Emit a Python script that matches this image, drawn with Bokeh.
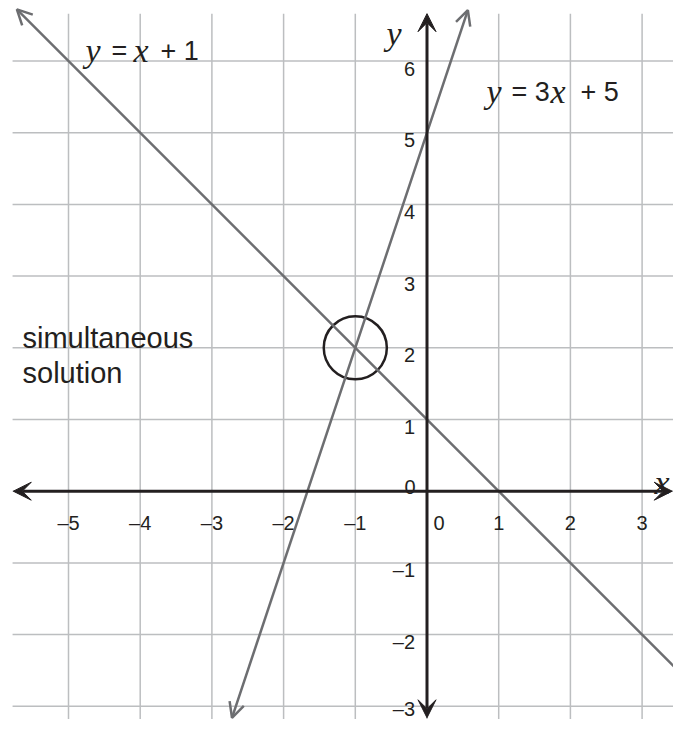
from bokeh.plotting import figure
from bokeh.models import Range1d, Arrow, VeeHead, OpenHead
from bokeh.core.properties import value
from bokeh.embed import file_html
from bokeh.resources import INLINE

# ---------------- data ----------------
grid_x = [-5, -4, -3, -2, -1, 0, 1, 2, 3]
grid_y = [-3, -2, -1, 0, 1, 2, 3, 4, 5, 6]
x_tick_values = [-5, -4, -3, -2, -1, 1, 2, 3]
x_tick_labels = ["\u20135", "\u20134", "\u20133", "\u20132", "\u20131", "1", "2", "3"]
y_tick_values = [-3, -2, -1, 1, 2, 3, 4, 5, 6]
y_tick_labels = ["\u20133", "\u20132", "\u20131", "1", "2", "3", "4", "5", "6"]
origin_label = "0"

# line y = -x + 1  (labelled "y = x + 1" in the source)
line1_x = [-5.72, 3.72]
line1_y = [6.72, -2.72]
# line y = 3x + 5
line2_x = [-2.72, 0.57]
line2_y = [-3.16, 6.71]
# simultaneous solution
solution_x = [-1]
solution_y = [2]
solution_r = 0.44

# axis extents
x_axis_ends = [-5.77, 3.42]
y_axis_ends = [-3.16, 6.66]
grid_left = -5.78
grid_top = 6.66

# ---------------- geometry helpers ----------------
UNIT = 71.7
X0PX = 426.5
Y0PX = 490.7
W, H = 673, 719


def px2x(px):
    return (px - X0PX) / UNIT


def px2y(py):
    return (Y0PX - py) / UNIT


DARK = "#231f20"
GRAY = "#6d6e71"
GRID = "#bcbec0"

p = figure(width=W, height=H,
           x_range=Range1d(px2x(0), px2x(W)),
           y_range=Range1d(px2y(H), px2y(0)),
           x_axis_location=None, y_axis_location=None,
           output_backend="svg", toolbar_location=None, min_border=0)
p.grid.visible = False
p.outline_line_color = None
p.background_fill_color = "white"
p.border_fill_color = "white"

x_hi = px2x(W)
y_lo = px2y(H)

# grid
p.segment(x0=grid_x, y0=[y_lo] * len(grid_x), x1=grid_x, y1=[grid_top] * len(grid_x),
          line_color=GRID, line_width=1.5)
p.segment(x0=[grid_left] * len(grid_y), y0=grid_y, x1=[x_hi] * len(grid_y), y1=grid_y,
          line_color=GRID, line_width=1.5)

# lines with open arrow heads
for lx, ly in ((line1_x, line1_y), (line2_x, line2_y)):
    p.add_layout(Arrow(x_start=lx[0], y_start=ly[0], x_end=lx[1], y_end=ly[1],
                       line_color=GRAY, line_width=2.5,
                       start=OpenHead(size=15, line_color=GRAY, line_width=2.5),
                       end=OpenHead(size=15, line_color=GRAY, line_width=2.5)))

# axes with filled vee heads
p.add_layout(Arrow(x_start=x_axis_ends[0], y_start=0, x_end=x_axis_ends[1], y_end=0,
                   line_color=DARK, line_width=3,
                   start=VeeHead(size=18, fill_color=DARK, line_color=DARK, line_width=1),
                   end=VeeHead(size=18, fill_color=DARK, line_color=DARK, line_width=1)))
p.add_layout(Arrow(x_start=0, y_start=y_axis_ends[0], x_end=0, y_end=y_axis_ends[1],
                   line_color=DARK, line_width=3,
                   start=VeeHead(size=18, fill_color=DARK, line_color=DARK, line_width=1),
                   end=VeeHead(size=18, fill_color=DARK, line_color=DARK, line_width=1)))

# solution circle
p.circle(x=solution_x, y=solution_y, radius=solution_r, fill_color=None,
         line_color=DARK, line_width=2.5)

SANS = value("Liberation Sans")
SERIF = value("Liberation Serif")

# tick labels
p.text(x=x_tick_values, y=[0] * len(x_tick_values), text=x_tick_labels,
       text_font=SANS, text_font_size="20px", text_color=DARK,
       text_align="center", text_baseline="alphabetic", y_offset=32)
y_label_offsets = [3 if v == y_tick_values[0] else 7.5 for v in y_tick_values]
p.text(x=[0] * len(y_tick_values), y=y_tick_values, text=y_tick_labels,
       text_font=SANS, text_font_size="20px", text_color=DARK,
       text_align="right", text_baseline="alphabetic", x_offset=-12,
       y_offset=y_label_offsets)
p.text(x=[0, 0], y=[0, 0], text=[origin_label, origin_label],
       text_font=SANS, text_font_size="20px", text_color=DARK,
       text_align="center", text_baseline="alphabetic",
       x_offset=[12, -17], y_offset=[32, -4])

# axis names
p.text(x=[px2x(654), px2x(386)], y=[px2y(482), px2y(33)], text=["x", "y"],
       text_font=SERIF, text_font_style="italic", text_font_size="34px",
       text_color=DARK, text_align="left", text_baseline="alphabetic")

# equation labels: italic variable parts and sans parts
p.text(x=[px2x(85), px2x(133), px2x(486), px2x(550)],
       y=[px2y(50), px2y(50), px2y(91), px2y(91)],
       text=["y", "x", "y", "x"],
       text_font=SERIF, text_font_style="italic", text_font_size="34px",
       text_color=DARK, text_align="left", text_baseline="alphabetic")
p.text(x=[px2x(111), px2x(160), px2x(511), px2x(580)],
       y=[px2y(50), px2y(50), px2y(91), px2y(91)],
       text=["=", "+ 1", "= 3", "+ 5"],
       text_font=SANS, text_font_size="27px",
       text_color=DARK, text_align="left", text_baseline="alphabetic")

# annotation
p.text(x=[px2x(22), px2x(22)], y=[px2y(337), px2y(372)],
       text=["simultaneous", "solution"],
       text_font=SANS, text_font_size="29px",
       text_color=DARK, text_align="left", text_baseline="alphabetic")

open("out.html", "w").write(file_html(p, INLINE))
